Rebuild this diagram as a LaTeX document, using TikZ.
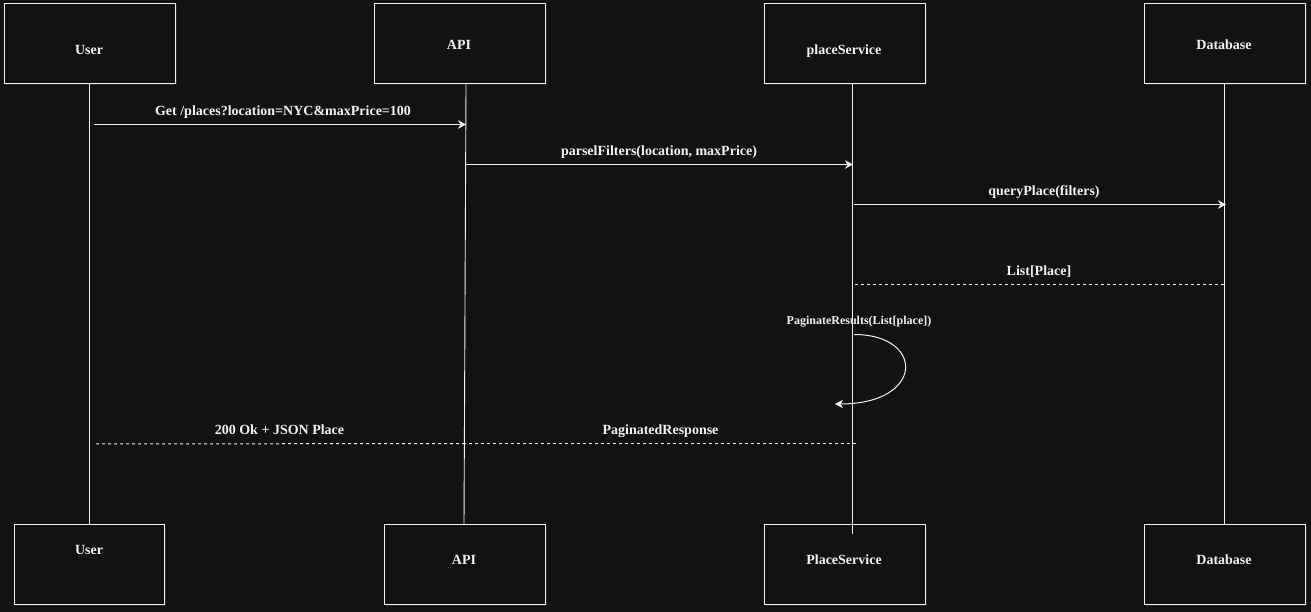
\documentclass[tikz,border=0pt]{standalone}
\usepackage{fontspec}
\setmainfont{Liberation Serif}
\usetikzlibrary{arrows.meta,shadows}
\definecolor{bg}{HTML}{121212}
\definecolor{fg}{HTML}{F2F2F2}
\definecolor{shd}{HTML}{5A5A5A}
\tikzset{
  actorbox/.style={draw=fg, line width=1pt, fill=bg, rectangle, inner sep=0pt,
    minimum height=80pt,
    drop shadow={shadow xshift=1.5pt, shadow yshift=-1.5pt, opacity=0.35, fill=shd}},
  boxtext/.style={text=fg, font=\fontsize{14}{16}\selectfont\bfseries, inner sep=0pt,
    text height=12pt, text depth=1pt},
  lbl/.style={boxtext, midway, yshift=14.5pt},
  smalllbl/.style={text=fg, font=\fontsize{12}{14}\selectfont\bfseries, inner sep=0pt,
    text height=10pt, text depth=0pt},
  life/.style={draw=fg, line width=0.9pt},
  msg/.style={draw=fg, line width=1pt, -{Stealth[length=8pt,width=8.5pt,inset=2.5pt]}},
  ret/.style={draw=fg, line width=1pt, dash pattern=on 3pt off 3pt}
}
\begin{document}
\begin{tikzpicture}[x=1pt,y=-1pt]
\fill[bg] (0,0) rectangle (1311,612);
\useasboundingbox (0,0) rectangle (1311,612);

% top boxes
\node[actorbox, minimum width=171pt] (uTop) at (89.5,44) {};
\node[actorbox, minimum width=171pt] (aTop) at (459.5,44) {};
\node[actorbox, minimum width=161pt] (pTop) at (844.5,44) {};
\node[actorbox, minimum width=161pt] (dTop) at (1224.5,44) {};
\node[boxtext] (uTopT) at (89,49) {User};
\node[boxtext] (aTopT) at (459,44) {API};
\node[boxtext] (pTopT) at (844,49) {placeService};
\node[boxtext] (dTopT) at (1224,44) {Database};

% bottom boxes
\node[actorbox, minimum width=150pt] (uBot) at (89,564) {};
\node[actorbox, minimum width=161pt] (aBot) at (464.5,564) {};
\node[actorbox, minimum width=161pt] (pBot) at (844.5,564) {};
\node[actorbox, minimum width=161pt] (dBot) at (1224.5,564) {};
\node[boxtext] (uBotT) at (89,549) {User};
\node[boxtext] (aBotT) at (464,559) {API};
\node[boxtext] (pBotT) at (844,559) {PlaceService};
\node[boxtext] (dBotT) at (1224,559) {Database};

% lifelines
\draw[life] ([xshift=-0.5pt]uTop.south) -- (uBot.north);
\draw[life] ([xshift=6.5pt]aTop.south) -- ([xshift=-0.5pt]aBot.north);
\draw[life] ([xshift=7.5pt]pTop.south) -- ([xshift=7.5pt,yshift=-10pt]pBot.north);
\draw[life] ([xshift=-0.5pt]dTop.south) -- ([xshift=-0.5pt]dBot.north);

% message end points
\coordinate (m1s) at (94,124.5);
\coordinate (m1e) at (466,124.5);
\coordinate (m2s) at (465,164.5);
\coordinate (m2e) at (853,164.5);
\coordinate (m3s) at (854,204.5);
\coordinate (m3e) at (1226,204.5);
\coordinate (m4s) at (1224,284.5);
\coordinate (m4e) at (854,284.5);
\coordinate (m5s) at (854,334.5);
\coordinate (m5e) at (835,404);
\coordinate (m6s) at (856,443.5);
\coordinate (m6m) at (465,443.5);
\coordinate (m6e) at (94,444);

\draw[msg] (m1s) -- node[lbl, xshift=3pt] (l1) {Get /places?location=NYC\&maxPrice=100} (m1e);
\draw[msg] (m2s) -- node[lbl] (l2) {parselFilters(location, maxPrice)} (m2e);
\draw[msg] (m3s) -- node[lbl, xshift=4pt] (l3) {queryPlace(filters)} (m3e);
\draw[ret] (m4s) -- node[lbl] (l4) {List[Place]} (m4e);
\draw[msg] (m5s) .. controls +(71,0) and +(90,0) .. (m5e);
\node[smalllbl] (l5) at (859,319.5) {PaginateResults(List[place])};
\draw[ret] (m6s) -- node[lbl] (l6) {PaginatedResponse} (m6m);
\draw[ret] (m6m) -- node[lbl] (l7) {200 Ok + JSON Place} (m6e);
\end{tikzpicture}
\end{document}
